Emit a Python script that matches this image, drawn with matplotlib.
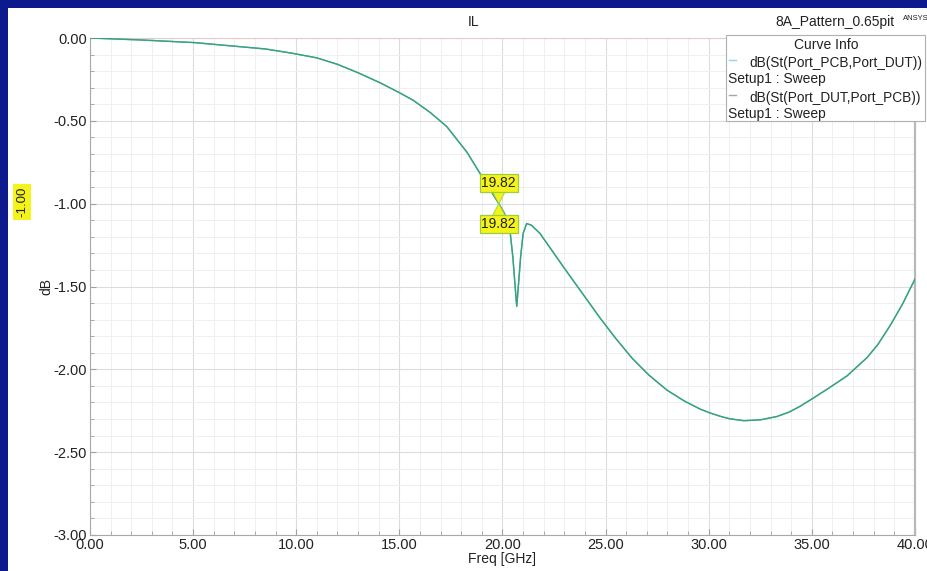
import matplotlib.pyplot as plt
import matplotlib.transforms as mtransforms
from matplotlib.patches import Polygon, Rectangle
from matplotlib.ticker import MultipleLocator, FormatStrFormatter

plt.rcParams['font.family'] = ['Liberation Sans', 'DejaVu Sans']

# ── data: insertion loss sweep ─────────────────────────────────────────────
freq_ghz = [0.0, 2.5, 5.1, 7.5, 8.5, 9.8, 11.0, 12.0, 13.0, 14.06, 15.0,
            15.66, 16.5, 17.3, 18.28, 18.9, 19.82, 20.1, 20.36, 20.5, 20.6,
            20.69, 20.78, 20.88, 21.0, 21.17, 21.4, 21.82, 23.0, 24.73, 25.5,
            26.3, 27.1, 27.97, 28.8, 29.58, 30.1, 30.6, 31.0, 31.7, 32.5,
            33.3, 33.9, 34.4, 35.05, 35.8, 36.7, 37.67, 38.2, 38.8, 39.4, 40.0]
il_db = [0.0, -0.012, -0.028, -0.055, -0.066, -0.092, -0.12, -0.159, -0.21,
         -0.27, -0.33, -0.375, -0.45, -0.535, -0.69, -0.815, -1.0, -1.06,
         -1.16, -1.32, -1.48, -1.62, -1.48, -1.32, -1.18, -1.12, -1.13, -1.18,
         -1.39, -1.69, -1.815, -1.935, -2.035, -2.125, -2.19, -2.24, -2.265,
         -2.285, -2.298, -2.31, -2.305, -2.285, -2.258, -2.225, -2.175,
         -2.115, -2.04, -1.93, -1.85, -1.735, -1.605, -1.455]

curve_names = ["dB(St(Port_PCB,Port_DUT))", "dB(St(Port_DUT,Port_PCB))"]
curve_colors = ["#4cc6a8", "#3c9f82"]
legend_dash_colors = ["#8fd8ea", "#9aaea2"]
marker_freq = 19.82
marker_db = -1.0

fig = plt.figure(figsize=(9.28, 5.71), dpi=100)
fig.patch.set_facecolor("#0c1a8e")
W, H = 928, 571
# white report panel
fig.patches.append(Rectangle((8 / W, 0), 1, 1 - 8 / H, transform=fig.transFigure,
                             facecolor="white", edgecolor="none", zorder=-5))

ax = fig.add_axes([90 / W, 1 - 535 / H, (915 - 90) / W, (535 - 38) / H])
ax.set_zorder(1)
ax.set_xlim(0, 40)
ax.set_ylim(-3, 0)

for name, color in zip(curve_names, curve_colors):
    ax.plot(freq_ghz, il_db, color=color, linewidth=1.0, zorder=3,
            solid_joinstyle="round")

ax.xaxis.set_major_locator(MultipleLocator(5))
ax.xaxis.set_minor_locator(MultipleLocator(1))
ax.yaxis.set_major_locator(MultipleLocator(0.5))
ax.yaxis.set_minor_locator(MultipleLocator(0.1))
ax.xaxis.set_major_formatter(FormatStrFormatter("%.2f"))
ax.yaxis.set_major_formatter(FormatStrFormatter("%.2f"))
ax.grid(True, which="major", color="#dcdcdc", linewidth=0.8)
ax.grid(True, which="minor", color="#efefef", linewidth=0.7)
ax.set_axisbelow(True)
ax.tick_params(which="both", direction="in", color="#a0a0a0", labelsize=10.5,
               labelcolor="#222222")
ax.tick_params(which="major", length=4, pad=2)
ax.tick_params(which="minor", length=3)
for side in ["left", "bottom"]:
    ax.spines[side].set_color("#a8a8a8")
ax.spines["right"].set_color("#b8b8b8")
ax.spines["right"].set_linewidth(1.6)
ax.spines["top"].set_color("#e8c8c8")

ax.set_xlabel("Freq [GHz]", fontsize=10, color="#222222", labelpad=0)
ax.set_ylabel("dB", fontsize=10, color="#222222", labelpad=0)
fig.text(474 / W, 1 - 22 / H, "IL", ha="center", va="center",
         fontsize=10, color="#222222")
fig.text(895 / W, 1 - 22 / H, "8A_Pattern_0.65pit", ha="right", va="center",
         fontsize=10, color="#222222")
fig.text(903 / W, 1 - 18 / H, "ANSYS", ha="left", va="center",
         fontsize=5.5, color="#222222")

# highlighted y-value of the marker
fig.text(22 / W, 1 - 202 / H, f"{marker_db:.2f}", rotation=90, ha="center",
         va="center", fontsize=9.5, color="#222222",
         bbox=dict(boxstyle="square,pad=0.2", facecolor="#f4f41a", edgecolor="none"))
fig.lines.append(plt.Line2D([28 / W] * 2, [1 - 187 / H, 1 - 217 / H],
                            transform=fig.transFigure, color="#222222",
                            linewidth=0.7))

# marker flags on both curves
mk = fig.dpi_scale_trans + mtransforms.ScaledTranslation(marker_freq, marker_db, ax.transData)
for sign in (1, -1):
    tri = Polygon([(0, 0), (-0.075, sign * 0.14), (0.075, sign * 0.14)], closed=True,
                  transform=mk, facecolor="#f4f41a", edgecolor="#9ccf3a",
                  linewidth=0.6, zorder=5)
    ax.add_patch(tri)
    ax.text(0, sign * 0.205, f"{marker_freq:.2f}", transform=mk, ha="center",
            va="center", fontsize=10, color="#222222", zorder=6,
            bbox=dict(boxstyle="square,pad=0.12", facecolor="#f4f41a",
                      edgecolor="#9ccf3a", linewidth=0.9))

# curve info box
fig.patches.append(Rectangle((726 / W, 1 - 121 / H), 199 / W, 86 / H,
                             transform=fig.transFigure, facecolor="white",
                             edgecolor="#b0b0b0", linewidth=0.8, zorder=10))
fig.text(826 / W, 1 - 45 / H, "Curve Info", ha="center", va="center",
         fontsize=10, color="#222222", zorder=11)
for i, (name, dcol) in enumerate(zip(curve_names, legend_dash_colors)):
    y0 = 63 + 35 * i
    fig.lines.append(plt.Line2D([729 / W, 736 / W], [1 - (y0 - 3) / H] * 2,
                                transform=fig.transFigure, color=dcol,
                                linewidth=1, zorder=11))
    fig.text(749 / W, 1 - y0 / H, name, ha="left", va="center", fontsize=9.8,
             color="#222222", zorder=11)
    fig.text(728 / W, 1 - (y0 + 16) / H, "Setup1 : Sweep", ha="left",
             va="center", fontsize=10, color="#222222", zorder=11)

fig.savefig("out.png", dpi=100, facecolor=fig.get_facecolor())
